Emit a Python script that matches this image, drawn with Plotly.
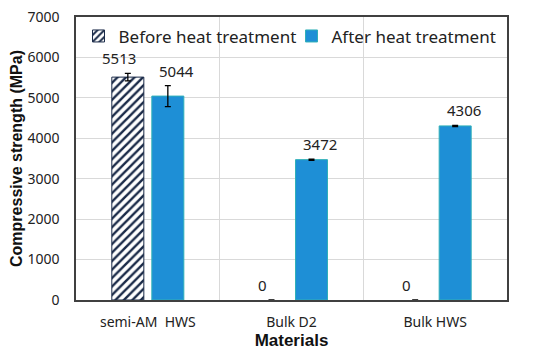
import plotly.graph_objects as go

categories = ["semi-AM  HWS", "Bulk D2", "Bulk HWS"]
before_vals = [5513, 0, 0]
before_err = [95, 0, 0]
after_vals = [5044, 3472, 4306]
after_err = [260, 15, 15]
y_ticks = [0, 1000, 2000, 3000, 4000, 5000, 6000, 7000]

FONT = "Noto Sans, Open Sans, sans-serif"

def err_arr(vals, errs):
    return [e if v != 0 else None for v, e in zip(vals, errs)]

fig = go.Figure()
fig.add_trace(go.Bar(
    name="Before heat treatment", x=categories, y=before_vals,
    error_y=dict(type="data", array=err_arr(before_vals, before_err), color="black", thickness=1.3, width=3),
    marker=dict(color="white", line=dict(color="#1a2a48", width=[1 if v else 0 for v in before_vals]),
                pattern=dict(shape="/", fgcolor="#1a2a48", bgcolor="white", size=6, solidity=0.4,
                             fgopacity=1)),
))
fig.add_trace(go.Bar(
    name="After heat treatment", x=categories, y=after_vals,
    error_y=dict(type="data", array=err_arr(after_vals, after_err), color="black", thickness=1.3, width=3),
    marker=dict(color="#1e8fd6", line=dict(color="#30b0b8", width=1)),
))

# value labels above bars/error bars
for i, c in enumerate(categories):
    for vals, errs, off in ((before_vals, before_err, -0.2), (after_vals, after_err, 0.2)):
        fig.add_annotation(x=i + off, y=vals[i] + errs[i], text=str(vals[i]),
                           showarrow=False, yanchor="bottom", yshift=3,
                           font=dict(family=FONT, size=15, color="#222"))

# page body has an 8px margin: size figure so plot area lands where the reference has it
fig.update_layout(
    width=542, height=352,
    margin=dict(l=68, r=43, t=9, b=60, autoexpand=False),
    paper_bgcolor="white", plot_bgcolor="white",
    barmode="group", bargap=0.443, bargroupgap=0.2,
    font=dict(family=FONT, size=14, color="#222"),
    showlegend=True,
    legend=dict(orientation="h", x=0.5, xanchor="center", y=0.995, yanchor="top",
                bgcolor="rgba(0,0,0,0)", font=dict(family=FONT, size=17, color="#222"),
                itemwidth=30, traceorder="normal", entrywidth=168, entrywidthmode="pixels"),
    xaxis=dict(tickson="boundaries", showgrid=True, gridcolor="#d9d9d9", ticks="",
               automargin=False, ticklabelstandoff=8,
               showline=True, mirror=True, linecolor="#404040", linewidth=1.5,
               tickfont=dict(family=FONT, size=14, color="#222"),
               title=dict(text="<b>Materials</b>", standoff=4,
                          font=dict(family="Liberation Sans, Arial, sans-serif", size=17, color="#111"))),
    yaxis=dict(range=[0, 7000], tickvals=y_ticks, showgrid=True, gridcolor="#d9d9d9",
               automargin=False, ticklabelstandoff=12, ticklabeloverflow="allow",
               showline=True, mirror=True, linecolor="#404040", linewidth=1.5,
               ticks="", zeroline=False,
               tickfont=dict(family=FONT, size=14, color="#222"),
               title=dict(text="<b>Compressive strength (MPa)</b>", standoff=4,
                          font=dict(family="Liberation Sans, Arial, sans-serif", size=16, color="#111"))),
)

fig.write_html("out.html")
